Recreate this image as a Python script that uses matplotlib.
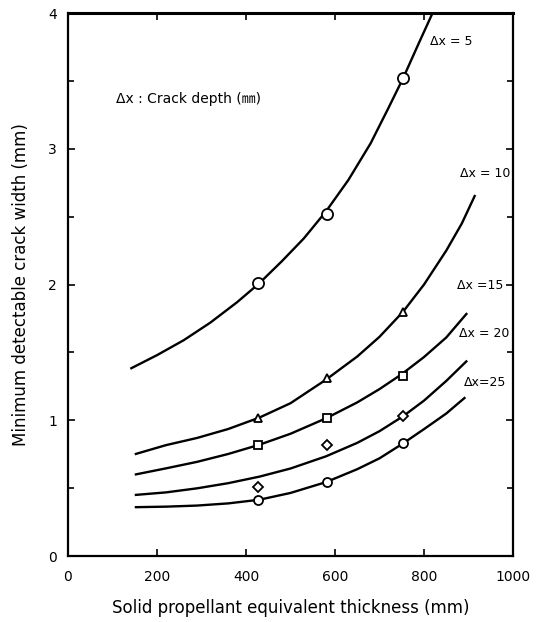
import numpy as np
import matplotlib
matplotlib.use("Agg")
import matplotlib.pyplot as plt
from matplotlib.ticker import MultipleLocator

# measured points (markers) at three thicknesses
x_pts = [428, 582, 753]
dx5_pts = [2.01, 2.52, 3.52]
dx10_pts = [1.02, 1.31, 1.80]
dx15_pts = [0.82, 1.02, 1.33]
dx20_pts = [0.51, 0.82, 1.03]
dx25_pts = [0.41, 0.545, 0.83]

# fitted curves
dx5_cx = [140, 200, 260, 320, 380, 430, 480, 530, 580, 630, 680, 720, 753, 790, 822]
dx5_cy = [1.38, 1.48, 1.59, 1.72, 1.87, 2.01, 2.17, 2.34, 2.54, 2.77, 3.04, 3.30, 3.52, 3.79, 4.02]

dx10_cx = [150, 220, 290, 360, 430, 500, 580, 650, 700, 753, 800, 850, 885, 915]
dx10_cy = [0.75, 0.817, 0.87, 0.936, 1.02, 1.126, 1.30, 1.47, 1.615, 1.80, 2.0, 2.25, 2.45, 2.66]

dx15_cx = [150, 220, 290, 360, 430, 500, 580, 650, 700, 750, 800, 850, 897]
dx15_cy = [0.60, 0.646, 0.694, 0.752, 0.82, 0.901, 1.015, 1.132, 1.23, 1.34, 1.466, 1.61, 1.79]

dx20_cx = [150, 220, 290, 360, 430, 500, 580, 650, 700, 753, 800, 850, 897]
dx20_cy = [0.45, 0.469, 0.499, 0.537, 0.585, 0.645, 0.735, 0.834, 0.92, 1.03, 1.145, 1.29, 1.44]

dx25_cx = [150, 220, 290, 360, 430, 500, 580, 650, 700, 753, 800, 850, 893]
dx25_cy = [0.36, 0.364, 0.372, 0.388, 0.415, 0.465, 0.545, 0.64, 0.72, 0.83, 0.935, 1.05, 1.17]

x_ticks = [0, 200, 400, 600, 800, 1000]
x_ticklabels = ["0", "200", "400", "600", "800", "1000"]
y_ticks = [0, 1, 2, 3, 4]

fig = plt.figure(figsize=(5.44, 6.22), dpi=100)
ax = fig.add_axes([0.125, 0.106, 0.818, 0.873])

curves = [(dx5_cx, dx5_cy), (dx10_cx, dx10_cy), (dx15_cx, dx15_cy),
          (dx20_cx, dx20_cy), (dx25_cx, dx25_cy)]
for cx, cy in curves:
    ax.plot(cx, cy, color="black", lw=1.7, solid_capstyle="butt",
            solid_joinstyle="round", zorder=2)

mk = dict(color="none", markerfacecolor="white", markeredgecolor="black",
          markeredgewidth=1.3, zorder=3, clip_on=False)
ax.plot(x_pts, dx5_pts, marker="o", markersize=8, **mk)
ax.plot(x_pts, dx10_pts, marker="^", markersize=6, **mk)
ax.plot(x_pts, dx15_pts, marker="s", markersize=5.5, **mk)
ax.plot(x_pts, dx20_pts, marker="D", markersize=5, **mk)
ax.plot(x_pts, dx25_pts, marker="o", markersize=6.5, **mk)

lab = dict(fontsize=9, color="black", va="center", ha="left")
ax.text(813, 3.79, "Δx = 5", **lab)
ax.text(881, 2.82, "Δx = 10", **lab)
ax.text(874, 1.99, "Δx =15", **lab)
ax.text(878, 1.64, "Δx = 20", **lab)
ax.text(889, 1.28, "Δx=25", **lab)
ax.text(108, 3.37, "Δx : Crack depth (㎜)", fontsize=10, va="center", ha="left",
        family=["DejaVu Sans", "Noto Sans CJK JP"])

ax.set_xlim(0, 1000)
ax.set_ylim(0, 4)
ax.set_xticks(x_ticks)
ax.set_xticklabels(x_ticklabels)
ax.set_yticks(y_ticks)
ax.yaxis.set_minor_locator(MultipleLocator(0.5))

ax.tick_params(axis="both", which="both", direction="in", top=True, right=True,
               width=1.2, labelsize=10)
ax.tick_params(axis="both", which="major", length=5)
ax.tick_params(axis="both", which="minor", length=4)
ax.tick_params(axis="x", pad=10)
ax.tick_params(axis="y", pad=8)

for s in ax.spines.values():
    s.set_linewidth(1.6)
ax.spines["top"].set_linewidth(2.2)

ax.set_xlabel("Solid propellant equivalent thickness (mm)", fontsize=12, labelpad=11)
ax.set_ylabel("Minimum detectable crack width (mm)", fontsize=12)
ax.yaxis.set_label_coords(-0.085, 0.5)

fig.savefig("out.png", dpi=100)
